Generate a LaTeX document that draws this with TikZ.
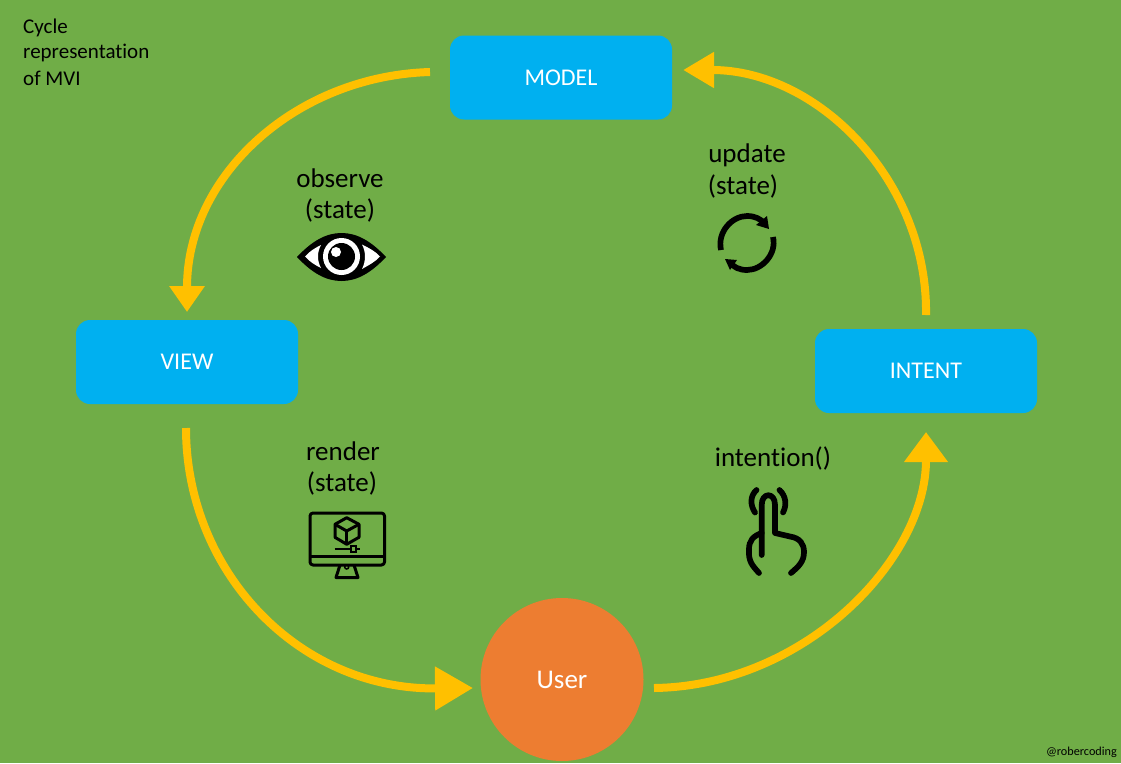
\documentclass[tikz,border=0pt]{standalone}
\usepackage{fontspec}
\setmainfont{Carlito}[Ligatures=CommonOff]
\usetikzlibrary{arrows.meta}
\definecolor{bggreen}{HTML}{70AD47}
\definecolor{boxblue}{HTML}{00B0F0}
\definecolor{useror}{HTML}{ED7D31}
\definecolor{flowy}{HTML}{FFC000}
\tikzset{
  boxnode/.style={fill=boxblue,rounded corners=14pt,minimum width=222pt,minimum height=84pt,inner sep=0pt,text=white,font=\fontsize{24}{26}\selectfont},
  usernode/.style={circle,fill=useror,minimum size=163pt,inner sep=0pt,text=white,font=\fontsize{27}{29}\selectfont},
  flow/.style={draw=flowy,line width=8pt},
  lbl/.style={inner sep=0pt,text=black,font=\fontsize{27}{29}\selectfont},
  small/.style={inner sep=0pt,text=black,font=\fontsize{21}{24}\selectfont,anchor=west},
  icon/.style={draw=black,line width=5.7pt,line cap=round,line join=round},
  thinicon/.style={draw=black,line width=3pt,line join=round}
}
\begin{document}
\begin{tikzpicture}[x=1pt,y=-1pt]
\useasboundingbox (0,0) rectangle (1121,763);
\fill[bggreen] (0,0) rectangle (1121,763);
% nodes
\node[boxnode] (model) at (561,77.5) {MODEL};
\node[boxnode] (view) at (187,362) {\raisebox{-1pt}{VIEW}};
\node[boxnode] (intent) at (926,371) {\raisebox{-1pt}{INTENT}};
\node[usernode] (user) at (562,679.5) {User};
% connector ends
\coordinate (ms) at (430,72);
\coordinate (ve) at (187,312);
\coordinate (vs) at (186,428);
\coordinate (ue) at (473,688);
\coordinate (us) at (654,688);
\coordinate (ie) at (926,432);
\coordinate (is) at (926,315);
\coordinate (me) at (683,70);
% connectors
\draw[flow,-{Triangle[length=26pt,width=34pt]}] (ms) .. controls (296,76) and (187,175) .. (ve);
\draw[flow,-{Triangle[length=38pt,width=42pt]}] (vs) .. controls (186,571) and (298,690) .. (ue);
\draw[flow,-{Triangle[length=30pt,width=42pt]}] (us) .. controls (804,686) and (926,560) .. (ie);
\draw[flow,-{Triangle[length=31pt,width=34pt]}] (is) .. controls (928,180) and (817,70) .. (me);
% labels
\node[small] (t1) at (23,28) {Cycle};
\node[small] (t2) at (23,53) {representation};
\node[small] (t3) at (23,78) {of MVI};
\node[lbl] (obs1) at (340,178) {observe};
\node[lbl] (obs2) at (340,210) {(state)};
\node[lbl] (upd1) at (747,155) {update};
\node[lbl] (upd2) at (743,186) {(state)};
\node[lbl] (ren1) at (343,451) {render};
\node[lbl] (ren2) at (342,483) {(state)};
\node[lbl] (int1) at (773,458) {intention()};
\node[inner sep=0pt,anchor=east,font=\fontsize{12.2}{14}\selectfont] (credit) at (1117,752) {@robercoding};
% eye icon
\fill[black] (297,257) .. controls (312,241) and (326,233) .. (341.5,233) .. controls (357,233) and (371,241) .. (386,257) .. controls (371,273) and (357,281) .. (341.5,281) .. controls (326,281) and (312,273) .. (297,257) -- cycle;
\fill[white] (305,256.5) .. controls (310,251) and (315,248) .. (321,245) .. controls (317,252) and (317,261) .. (321,268) .. controls (315,265) and (310,262) .. (305,256.5) -- cycle;
\fill[white] (380,256.5) .. controls (375,251) and (369,248) .. (362,244.5) .. controls (366,252) and (366,261) .. (362,269) .. controls (369,265) and (375,262) .. (380,256.5) -- cycle;
\fill[white] (341.5,256.5) circle[radius=18.5];
\fill[black] (341.5,256.5) circle[radius=13.5];
\fill[white] (336,252) circle[radius=5];
% sync icon
\draw[icon,line cap=butt] (721,250) .. controls (717,232) and (732,216) .. (747,216) .. controls (755,216) and (761,219) .. (765,224);
\fill[black] (756,225) -- (767,216) -- (769,229) -- cycle;
\draw[icon,line cap=butt] (773,237) .. controls (777,254) and (762,270) .. (747,270) .. controls (739,270) and (733,267) .. (730,262);
\fill[black] (725,259) -- (737,260) -- (730,270) -- cycle;
% monitor icon
\draw[thinicon,rounded corners=3pt] (310,513) rectangle (384.5,565);
\draw[thinicon] (310,556.5) -- (384.5,556.5);
\draw[thinicon] (340,565) -- (336,577.5) -- (358,577.5) -- (354,565);
\draw[line width=1.5pt] (346.7,567) circle[radius=2];
\draw[thinicon] (346.7,517.7) -- (359,524.3) -- (359,537.3) -- (346.7,544.3) -- (335,537.3) -- (335,524.3) -- cycle;
\draw[thinicon] (335,524.3) -- (346.7,531) -- (359,524.3);
\draw[thinicon] (346.7,531) -- (346.7,544.3);
\draw[black,line width=2pt] (334.5,548.7) -- (360,548.7);
\draw[black,line width=2pt,fill=bggreen] (350.5,546) rectangle (355.5,551.5);
% hand icon
\draw[icon] (761.7,555) -- (761.7,505) .. controls (761.7,492) and (775,492) .. (775,505) -- (775,533) -- (790,536.5) .. controls (800,538) and (804,544) .. (804,552) .. controls (804,562) and (798,567) .. (791,573);
\draw[icon] (761.7,533) .. controls (753,536) and (749,541) .. (749,549) .. controls (748,562) and (753,566) .. (759,573);
\draw[icon] (756.5,490) .. controls (750,496) and (750,505) .. (755,512.5);
\draw[icon] (779.5,490) .. controls (786,496) and (787,505) .. (783,512.5);
\end{tikzpicture}
\end{document}
